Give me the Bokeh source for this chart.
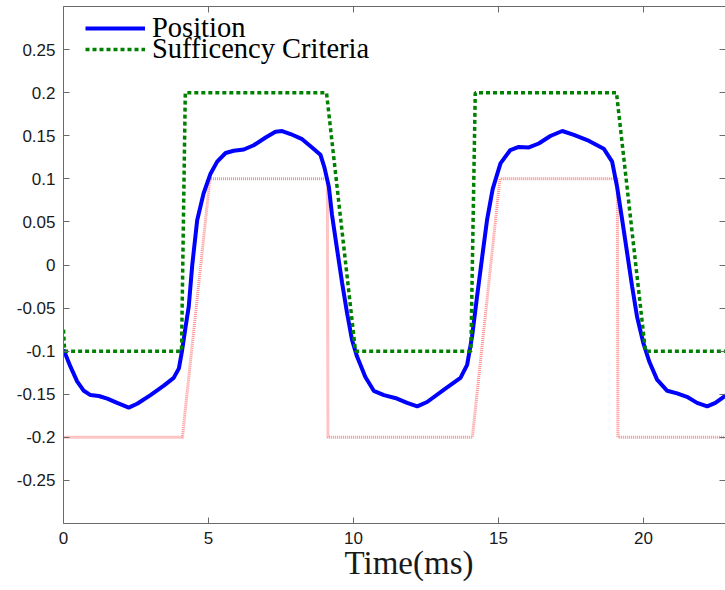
from bokeh.plotting import figure
from bokeh.models import Range1d, LinearAxis, Legend, LegendItem, Title, FixedTicker
from bokeh.embed import file_html
from bokeh.resources import INLINE

# ---- data ----
pos_t = [0.00, 0.24, 0.47, 0.70, 0.93, 1.22, 1.51, 1.85, 2.25, 2.54, 3.00, 3.46, 3.80,
         3.98, 4.09, 4.21, 4.32, 4.44, 4.61, 4.83, 5.07, 5.30, 5.59, 5.87, 6.22, 6.56,
         6.97, 7.31, 7.54, 7.83, 8.23, 8.55, 8.86, 9.00, 9.15, 9.26, 9.44, 9.61, 9.78,
         9.95, 10.12, 10.41, 10.70, 11.05, 11.50, 11.85, 12.20, 12.54, 13.11, 13.69,
         13.92, 14.09, 14.26, 14.44, 14.61, 14.80, 15.07, 15.41, 15.70, 16.05, 16.39,
         16.79, 17.20, 17.60, 18.06, 18.63, 18.92, 19.09, 19.26, 19.44, 19.61, 19.78,
         20.00, 20.20, 20.47, 20.82, 21.16, 21.50, 21.85, 22.20, 22.48, 22.90]
pos_v = [-0.098, -0.118, -0.135, -0.146, -0.151, -0.152, -0.155, -0.160, -0.1655, -0.161,
         -0.151, -0.140, -0.131, -0.120, -0.099, -0.072, -0.048, 0.000, 0.052, 0.083,
         0.106, 0.120, 0.130, 0.1326, 0.134, 0.139, 0.148, 0.1547, 0.1555, 0.152, 0.146,
         0.137, 0.128, 0.113, 0.091, 0.058, 0.017, -0.021, -0.056, -0.087, -0.106,
         -0.130, -0.146, -0.151, -0.155, -0.160, -0.164, -0.159, -0.145, -0.131, -0.116,
         -0.083, -0.037, 0.0097, 0.053, 0.088, 0.118, 0.1334, 0.137, 0.1365, 0.141,
         0.1497, 0.1555, 0.151, 0.145, 0.135, 0.120, 0.091, 0.054, 0.0135, -0.025,
         -0.060, -0.091, -0.112, -0.133, -0.146, -0.149, -0.153, -0.160, -0.164, -0.160,
         -0.150]

suff_t = [0.0, 0.04, 4.07, 4.20, 9.07, 10.07, 14.05, 14.20, 19.07, 20.07, 24.0]
suff_v = [-0.075, -0.1, -0.1, 0.2, 0.2, -0.1, -0.1, 0.2, 0.2, -0.1, -0.1]

ref_t = [0.0, 4.10, 5.05, 9.10, 9.12, 14.10, 15.05, 19.10, 19.12, 24.0]
ref_v = [-0.2, -0.2, 0.1, 0.1, -0.2, -0.2, 0.1, 0.1, -0.2, -0.2]

x_ticks = [0, 5, 10, 15, 20]
y_ticks = [-0.25, -0.2, -0.15, -0.1, -0.05, 0, 0.05, 0.1, 0.15, 0.2, 0.25]
y_tick_labels = ["-0.25", "-0.2", "-0.15", "-0.1", "-0.05", "0", "0.05", "0.1", "0.15",
                 "0.2", "0.25"]
series_names = ["Position", "Sufficency Criteria"]
x_label = "Time(ms)"

AX = "#6a6a6a"
TICK_FONT = "Liberation Sans"
SERIF = "Liberation Serif"

p = figure(width=725, height=590, output_backend="svg", toolbar_location=None,
           x_range=Range1d(0, 22.83), y_range=Range1d(-0.3, 0.3),
           min_border_left=63, min_border_right=0, min_border_top=6,
           min_border_bottom=67, background_fill_color="white",
           border_fill_color="white")
p.outline_line_color = None
p.grid.visible = False

for ax, ticks in ((p.xaxis[0], x_ticks), (p.yaxis[0], y_ticks)):
    ax.ticker = FixedTicker(ticks=ticks)
    ax.major_tick_in = 6
    ax.major_tick_out = 0
    ax.minor_tick_line_color = None
    ax.axis_line_color = AX
    ax.major_tick_line_color = AX
    ax.major_label_text_font = TICK_FONT
    ax.major_label_text_font_size = "17px"
    ax.major_label_text_color = "#1a1a1a"
    ax.major_label_standoff = 8

p.yaxis[0].major_label_overrides = {t: s for t, s in zip(y_ticks, y_tick_labels)}

top = LinearAxis(ticker=FixedTicker(ticks=x_ticks), major_label_text_font_size="0px",
                 major_label_text_color=None, major_label_standoff=0,
                 major_tick_in=6, major_tick_out=0,
                 minor_tick_line_color=None, axis_line_color=AX,
                 major_tick_line_color=AX)
p.add_layout(top, "above")
right = LinearAxis(ticker=FixedTicker(ticks=y_ticks), major_label_text_font_size="0px",
                   major_label_text_color=None, major_label_standoff=0,
                   major_tick_in=6, major_tick_out=0,
                   minor_tick_line_color=None, axis_line_color=None,
                   major_tick_line_color=AX)
p.add_layout(right, "right")

r_ref = p.line(ref_t, ref_v, line_color="#ff8c8c", line_width=3, line_dash="1 1")
r_pos = p.line(pos_t, pos_v, line_color="#0000ff", line_width=4)
r_suff = p.line(suff_t, suff_v, line_color="#008000", line_width=3.5, line_dash="4 3")

leg_kw = dict(padding=0, margin=0, spacing=0, glyph_width=60, glyph_height=34,
              label_height=34, label_standoff=7, label_text_font=SERIF,
              label_text_font_size="28.5px", label_text_color="black",
              background_fill_alpha=0, border_line_color=None)
leg1 = Legend(items=[LegendItem(label=series_names[0], renderers=[r_pos])],
              location=(22, 478), **leg_kw)
leg2 = Legend(items=[LegendItem(label=series_names[1], renderers=[r_suff])],
              location=(22, 457), **leg_kw)
p.add_layout(leg1)
p.add_layout(leg2)

xt = Title(text=x_label, align="left", offset=281, text_font=SERIF,
           text_font_size="33px", text_font_style="normal", text_color="#1a1a1a",
           standoff=-8)
p.add_layout(xt, "below")

open("out.html", "w").write(file_html(p, INLINE))
